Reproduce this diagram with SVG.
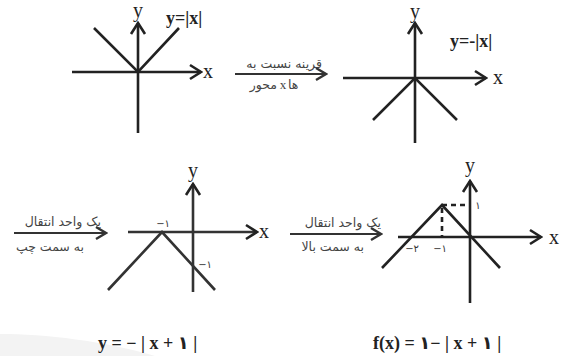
<svg xmlns="http://www.w3.org/2000/svg" width="564" height="356" viewBox="0 0 564 356">
<style>
.ax{stroke:#222;stroke-width:2.6;fill:none}
.ax2{stroke:#333;stroke-width:2.6;fill:none}
.dash{stroke:#222;stroke-width:2.6;fill:none;stroke-dasharray:5,4}
.ar{stroke:#333;stroke-width:2;fill:none}
.lbl{font-family:"Liberation Serif","Times New Roman",serif;font-size:20px;fill:#222}
.eq{font-family:"Liberation Serif","Times New Roman","DejaVu Sans",serif;font-size:18px;font-weight:bold;fill:#222}
.fa{font-family:"DejaVu Sans","Noto Sans",sans-serif;font-size:12.5px;fill:#444}
.num{font-family:"DejaVu Sans",sans-serif;font-size:10px;fill:#333}
</style>
<defs>
<marker id="chev" markerUnits="userSpaceOnUse" viewBox="-14 -10 16 20" refX="0" refY="0" markerWidth="16" markerHeight="20" orient="auto">
<path d="M-11,-7 L0,0 L-11,7" fill="none" stroke="#222" stroke-width="2.6"/>
</marker>
<marker id="chev2" markerUnits="userSpaceOnUse" viewBox="-14 -10 16 20" refX="0" refY="0" markerWidth="16" markerHeight="20" orient="auto">
<path d="M-10,-6 L0,0 L-10,6" fill="none" stroke="#333" stroke-width="2.4"/>
</marker>
</defs>
<path d="M0,334 C45,334 105,341 155,356 L0,356 Z" fill="#f3f3f3"/>

<g id="graph1">
<line class="ax" x1="72" y1="72" x2="201" y2="72" marker-end="url(#chev)"/>
<line class="ax" x1="138" y1="133" x2="138" y2="23" marker-end="url(#chev)"/>
<polyline class="ax" points="94,28 138,72 179,28"/>
<text class="lbl" x="138" y="17" text-anchor="middle">y</text>
<text class="lbl" x="203" y="78">x</text>
<text class="eq" x="166" y="24">y=|x|</text>
</g>

<g id="graph2">
<line class="ax" x1="343" y1="78" x2="486" y2="78" marker-end="url(#chev)"/>
<line class="ax" x1="415" y1="143" x2="415" y2="23" marker-end="url(#chev)"/>
<polyline class="ax" points="373,120 415,78 457,120"/>
<text class="lbl" x="415" y="18" text-anchor="middle">y</text>
<text class="lbl" x="493" y="84">x</text>
<text class="eq" x="450" y="47">y=-|x|</text>
</g>

<g id="graph3">
<line class="ax2" x1="128" y1="232" x2="257" y2="232" marker-end="url(#chev)"/>
<line class="ax2" x1="193" y1="292" x2="193" y2="184" marker-end="url(#chev)"/>
<polyline class="ax2" points="108,290 162,232 215,290"/>
<text class="lbl" x="193" y="177" text-anchor="middle">y</text>
<text class="lbl" x="259" y="238">x</text>
<text class="num" x="163" y="227" text-anchor="middle">−۱</text>
<text class="num" x="205" y="268" text-anchor="middle">−۱</text>
</g>

<g id="graph4">
<line class="ax" x1="398" y1="237" x2="541" y2="237" marker-end="url(#chev)"/>
<line class="ax" x1="470" y1="303" x2="470" y2="181" marker-end="url(#chev)"/>
<polyline class="ax" points="382,268 442,205 500,268"/>
<line class="dash" x1="442" y1="205" x2="470" y2="205"/>
<line class="dash" x1="442" y1="208" x2="442" y2="237"/>
<text class="lbl" x="549" y="244">x</text>
<text class="lbl" x="470" y="172" text-anchor="middle">y</text>
<text class="num" x="478" y="209" text-anchor="middle">۱</text>
<text class="num" x="412" y="252" text-anchor="middle">−۲</text>
<text class="num" x="440" y="252" text-anchor="middle">−۱</text>
</g>

<g id="connectors">
<line class="ar" x1="235" y1="74" x2="326" y2="74" marker-end="url(#chev2)"/>
<line class="ar" x1="14" y1="233" x2="106" y2="233" marker-end="url(#chev2)"/>
<line class="ar" x1="290" y1="234" x2="381" y2="234" marker-end="url(#chev2)"/>
</g>

<g id="labels">
<text class="fa" x="322" y="68" text-anchor="end">قرینه نسبت به</text>
<text class="fa" x="277" y="89" text-anchor="end">محور</text>
<text x="283" y="89" text-anchor="middle" font-family="Liberation Serif, serif" font-size="13" fill="#444">x</text>
<text class="fa" x="288" y="89">ها</text>
<text class="fa" x="101" y="226" text-anchor="end">یک واحد انتقال</text>
<text class="fa" x="84" y="251" text-anchor="end">به سمت چپ</text>
<text class="fa" x="381" y="227" text-anchor="end">یک واحد انتقال</text>
<text class="fa" x="364" y="251" text-anchor="end">به سمت بالا</text>
<text class="eq" x="98" y="349">y = − | x + ۱ |</text>
<text class="eq" x="373" y="349">f(x) = ۱− | x + ۱ |</text>
</g>
</svg>
